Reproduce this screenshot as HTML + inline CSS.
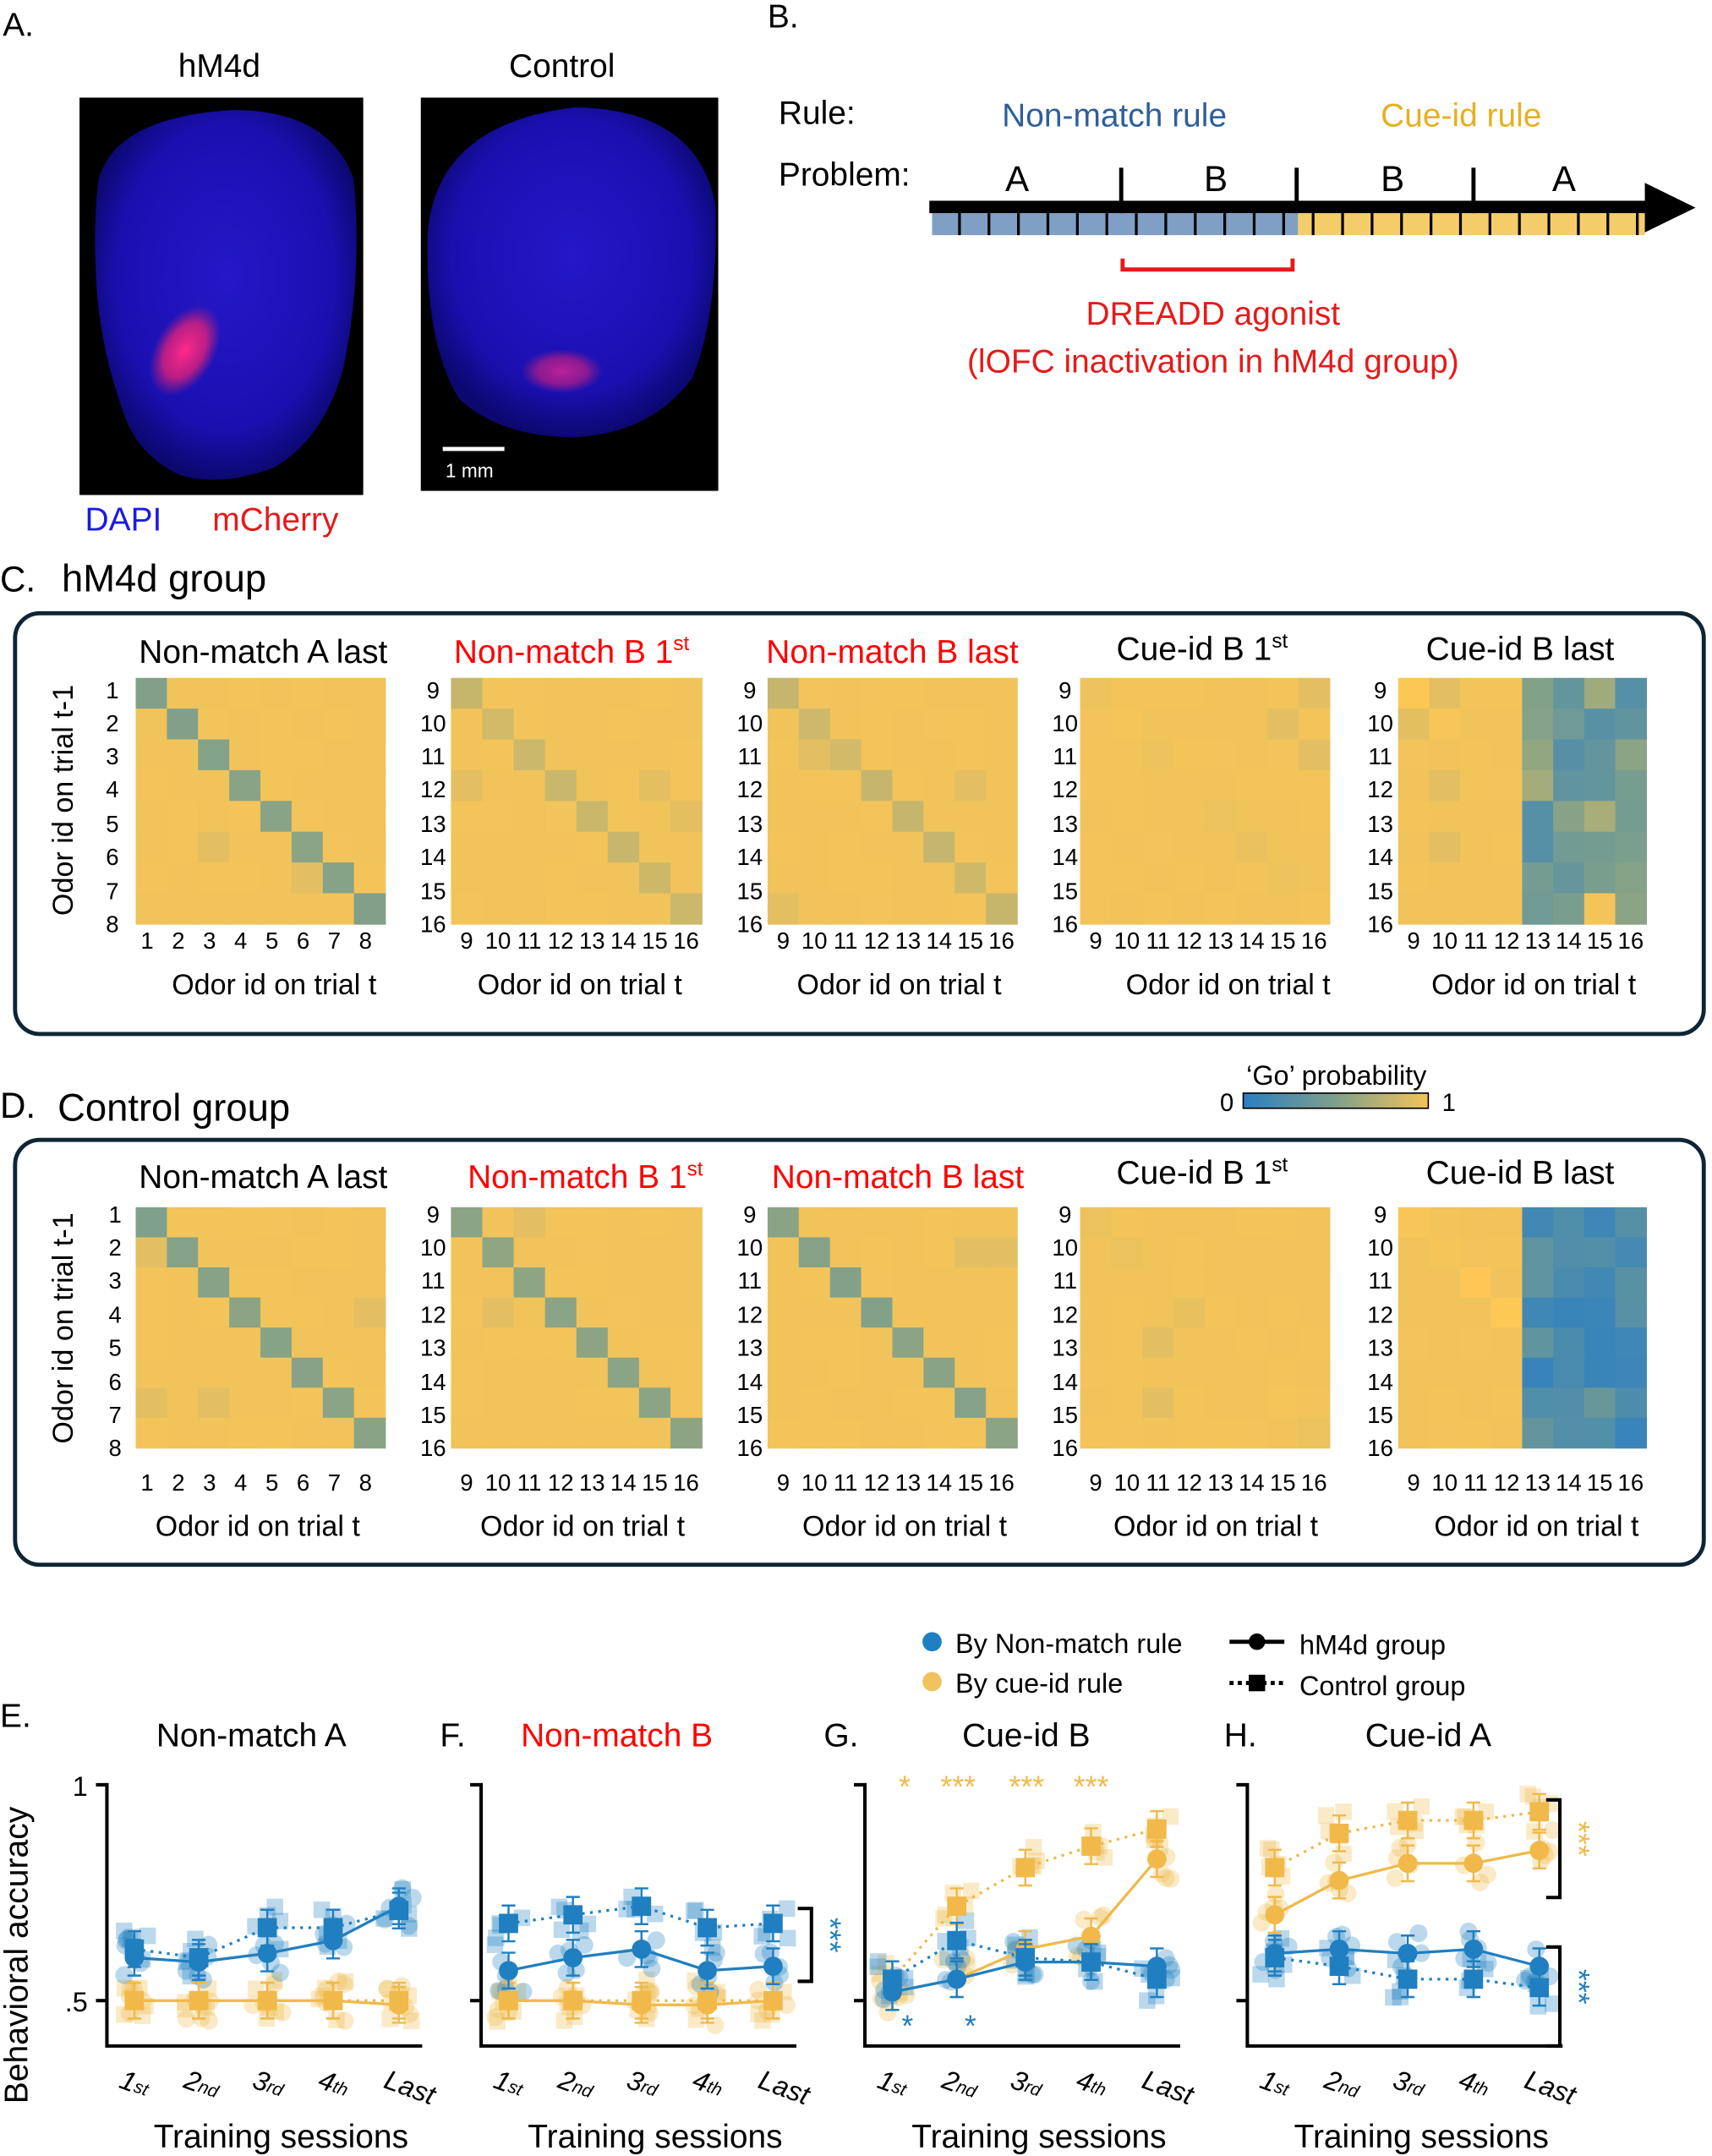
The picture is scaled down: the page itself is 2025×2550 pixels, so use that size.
<!DOCTYPE html>
<html><head><meta charset="utf-8"><style>
html,body{margin:0;padding:0;background:#fff}
svg{display:block}
text{font-family:"Liberation Sans",sans-serif}
</style></head><body>
<svg id="s" width="2025" height="2550" viewBox="0 0 1249 1568" preserveAspectRatio="none" xmlns="http://www.w3.org/2000/svg">
<rect width="1249" height="1568" fill="#fff"/>
<defs>
<radialGradient id="br1" cx="50%" cy="45%" r="55%"><stop offset="0" stop-color="#2418c8"/><stop offset="0.75" stop-color="#1a10b0"/><stop offset="1" stop-color="#0c0870"/></radialGradient>
<radialGradient id="pk" cx="50%" cy="50%" r="50%"><stop offset="0" stop-color="#ff2a8a"/><stop offset="0.6" stop-color="#e0207a" stop-opacity="0.8"/><stop offset="1" stop-color="#c0207a" stop-opacity="0"/></radialGradient>
<linearGradient id="cb" x1="0" x2="1"><stop offset="0" stop-color="#2a7fc4"/><stop offset="0.5" stop-color="#7fa08a"/><stop offset="1" stop-color="#f3c45a"/></linearGradient>
</defs>
<!-- Panel A -->
<text x="2" y="26" font-size="24">A.</text>
<text x="160" y="56" font-size="24" text-anchor="middle">hM4d</text>
<text x="410" y="56" font-size="24" text-anchor="middle">Control</text>
<rect x="58" y="71" width="207" height="289" fill="#000"/>
<path d="M72 130 Q85 85 170 80 Q240 80 258 130 Q265 200 250 270 Q235 320 200 340 Q160 355 130 345 Q100 330 90 300 Q72 250 70 200 Q68 160 72 130Z" fill="url(#br1)"/>
<ellipse cx="135" cy="255" rx="22" ry="36" fill="url(#pk)" transform="rotate(30 135 255)"/>
<rect x="307" y="71" width="217" height="286" fill="#000"/>
<path d="M312 170 Q318 90 420 78 Q510 80 522 150 Q524 230 505 275 Q475 315 420 318 Q365 318 335 290 Q310 250 312 170Z" fill="url(#br1)"/>
<ellipse cx="410" cy="270" rx="30" ry="16" fill="url(#pk)" opacity="0.7"/>
<rect x="323" y="325" width="45" height="3" fill="#fff"/>
<text x="325" y="347" font-size="14" fill="#fff">1 mm</text>
<text x="62" y="386" font-size="24" fill="#1a1ae6">DAPI</text>
<text x="155" y="386" font-size="24" fill="#e61a1a">mCherry</text>
<!-- Panel B -->
<text x="560" y="20" font-size="24">B.</text>
<text x="568" y="90" font-size="24">Rule:</text>
<text x="568" y="135" font-size="24">Problem:</text>
<text x="813" y="92" font-size="24" fill="#2e5f9a" text-anchor="middle">Non-match rule</text>
<text x="1066" y="92" font-size="24" fill="#e6b020" text-anchor="middle">Cue-id rule</text>
<text x="742" y="139" font-size="26" text-anchor="middle">A</text>
<text x="887" y="139" font-size="26" text-anchor="middle">B</text>
<text x="1016" y="139" font-size="26" text-anchor="middle">B</text>
<text x="1141" y="139" font-size="26" text-anchor="middle">A</text>
<rect x="680" y="155" width="267" height="16" fill="#7f9fc4"/>
<rect x="947" y="155" width="253" height="16" fill="#f4cd6a"/>
<rect x="678" y="146" width="528" height="9" fill="#000"/>
<polygon points="1200,133 1237,151 1200,169" fill="#000"/>
<g id="bt" stroke="#000" stroke-width="2"></g>
<path d="M819 188 V196 H943 V188" stroke="#e61a1a" stroke-width="3" fill="none"/>
<text x="885" y="236" font-size="24" fill="#e61a1a" text-anchor="middle">DREADD agonist</text>
<text x="885" y="271" font-size="24" fill="#e61a1a" text-anchor="middle">(lOFC inactivation in hM4d group)</text>
<!-- Panel C/D headers -->
<text x="0" y="430" font-size="26">C.</text><text x="45" y="430" font-size="28">hM4d group</text>
<text x="0" y="813" font-size="26">D.</text><text x="42" y="815" font-size="28">Control group</text>
<rect x="11" y="446" width="1232" height="306" rx="18" fill="none" stroke="#0f2535" stroke-width="3"/>
<rect x="11" y="829" width="1232" height="309" rx="18" fill="none" stroke="#0f2535" stroke-width="3"/>
<!-- colorbar -->
<text x="975" y="789" font-size="20" text-anchor="middle">‘Go’ probability</text>
<rect x="907" y="795" width="135" height="11" fill="url(#cb)" stroke="#000" stroke-width="1"/>
<text x="895" y="808" font-size="18" text-anchor="middle">0</text>
<text x="1057" y="808" font-size="18" text-anchor="middle">1</text>
<g id="heat"></g>
<g font-size="24" text-anchor="middle">
<text x="192" y="482">Non-match A last</text>
<text x="417" y="482" fill="#f00">Non-match B 1<tspan font-size="15" dy="-9">st</tspan></text>
<text x="651" y="482" fill="#f00">Non-match B last</text>
<text x="877" y="480">Cue-id B 1<tspan font-size="15" dy="-9">st</tspan></text>
<text x="1109" y="480">Cue-id B last</text>
<text x="192" y="864">Non-match A last</text>
<text x="427" y="864" fill="#f00">Non-match B 1<tspan font-size="15" dy="-9">st</tspan></text>
<text x="655" y="864" fill="#f00">Non-match B last</text>
<text x="877" y="861">Cue-id B 1<tspan font-size="15" dy="-9">st</tspan></text>
<text x="1109" y="861">Cue-id B last</text>
</g>
<g font-size="21" text-anchor="middle">
<text x="200" y="723">Odor id on trial  t</text><text x="423" y="723">Odor id on trial  t</text><text x="656" y="723">Odor id on trial  t</text><text x="896" y="723">Odor id on trial  t</text><text x="1119" y="723">Odor id on trial  t</text>
<text x="188" y="1117">Odor id on trial  t</text><text x="425" y="1117">Odor id on trial  t</text><text x="660" y="1117">Odor id on trial  t</text><text x="887" y="1117">Odor id on trial  t</text><text x="1121" y="1117">Odor id on trial  t</text>
<text transform="translate(53 582) rotate(-90)" font-size="21">Odor id on trial  t-1</text>
<text transform="translate(53 966) rotate(-90)" font-size="21">Odor id on trial  t-1</text>
</g>
<g id="lbl" font-size="17" text-anchor="middle"></g>
<!-- Legend E-H -->
<circle cx="680" cy="1194" r="7" fill="#1f7fc0"/><text x="697" y="1202" font-size="20">By Non-match rule</text>
<circle cx="680" cy="1223" r="7" fill="#f0c35e"/><text x="697" y="1231" font-size="20">By cue-id rule</text>
<line x1="897" y1="1194" x2="937" y2="1194" stroke="#000" stroke-width="3"/><circle cx="917" cy="1194" r="6"/>
<line x1="897" y1="1224" x2="937" y2="1224" stroke="#000" stroke-width="3" stroke-dasharray="3 3"/><rect x="911" y="1218" width="12" height="12"/>
<text x="948" y="1203" font-size="20">hM4d group</text><text x="948" y="1233" font-size="20">Control group</text>
<g font-size="24">
<text x="0" y="1256">E.</text><text x="114" y="1270">Non-match A</text>
<text x="321" y="1270">F.</text><text x="380" y="1270" fill="#f00">Non-match B</text>
<text x="601" y="1270">G.</text><text x="702" y="1270">Cue-id B</text>
<text x="893" y="1270">H.</text><text x="996" y="1270">Cue-id A</text>
</g>
<text transform="translate(20 1530) rotate(-90)" font-size="24">Behavioral  accuracy</text>
<text x="64" y="1306" font-size="20" text-anchor="end">1</text>
<text x="64" y="1463" font-size="20" text-anchor="end">.5</text>
<g id="plots"></g>
</svg>
<script>
const NS="http://www.w3.org/2000/svg";
function el(p,t,a,txt){const e=document.createElementNS(NS,t);for(const k in a)e.setAttribute(k,a[k]);if(txt!==undefined)e.textContent=txt;p.appendChild(e);return e;}
const bt=document.getElementById('bt');
for(let x=700;x<1200;x+=21.5){el(bt,'line',{x1:x,y1:155,x2:x,y2:171});}
for(const x of [818,946,1075]){el(bt,'line',{x1:x,y1:122,x2:x,y2:155,'stroke-width':3});}
function lerp(a,b,t){return a.map((v,i)=>Math.round(v+(b[i]-v)*t));}
function cmap(v){const c0=[42,127,196],c1=[127,160,138],c2=[243,196,90];return 'rgb('+(v<0.5?lerp(c0,c1,v*2):lerp(c1,c2,(v-0.5)*2)).join(',')+')';}
let seed=7;function rnd(){seed=(seed*9301+49297)%233280;return seed/233280;}
const H=document.getElementById('heat'),L=document.getElementById('lbl');
const xs=[99,329,560,788,1020],ws=[182,183,182,182,181];
function heat(y0,h,k,diag,blue){
 const x0=xs[k],w=ws[k],cw=w/8,ch=h/8;
 for(let r=0;r<8;r++)for(let c=0;c<8;c++){
  let v=0.985+0.015*rnd();
  if(rnd()<0.04)v=0.93;
  if(r==c)v=diag+0.06*rnd();
  if(blue&&c>=4)v=blue[0]+blue[1]*rnd();
  if(blue&&c==6&&r==7&&y0<800)v=1;
  el(H,'rect',{x:x0+c*cw,y:y0+r*ch,width:cw+0.5,height:ch+0.5,fill:cmap(v)});
 }
}
const dC=[0.5,0.8,0.8,0.95,null],dD=[0.5,0.55,0.5,0.95,null];
for(let k=0;k<5;k++){
 heat(493,179,k,k==4?0.99:dC[k],k==4?[0.25,0.45]:null);
 heat(878,175,k,k==4?0.99:dD[k],k==4?[0.08,0.3]:null);
}
const rC=[502,526,550,574,599,623,648,672],rD=[883,907,931,956,980,1005,1029,1053];
const ylx=[82,316,547,777,1007];
for(let k=0;k<5;k++){
 for(let i=0;i<8;i++){
  const lab=k==0?(i+1):(i+9);
  el(L,'text',{x:ylx[k],y:rC[i]+6},lab);
  el(L,'text',{x:ylx[k]+(k==0?2:0),y:rD[i]+6},lab);
  const cx=xs[k]+ws[k]/8*(i+0.5)+(k==0?-3:0);
  el(L,'text',{x:cx,y:690},lab);
  el(L,'text',{x:cx,y:1084},lab);
 }
}
const P=document.getElementById('plots');
const ax=[78,351,631,910];
const B='#1f7fc0',Y='#f0b94a';
function Yv(v){return 1455-(v-0.5)*312;}
const data=[
 {bh:[.6,.59,.61,.64,.72],bc:[.62,.6,.67,.67,.71],yh:[.5,.5,.5,.5,.49],yc:[.5,.5,.5,.5,.5]},
 {bh:[.57,.6,.62,.57,.58],bc:[.68,.7,.72,.67,.68],yh:[.5,.5,.49,.49,.5],yc:[.5,.5,.5,.5,.5]},
 {bh:[.52,.55,.59,.59,.58],bc:[.55,.64,.6,.59,.55],yh:[.52,.55,.62,.65,.83],yc:[.55,.72,.81,.86,.9]},
 {bh:[.61,.62,.61,.62,.58],bc:[.6,.58,.55,.55,.53],yh:[.7,.78,.82,.82,.85],yc:[.81,.89,.92,.92,.94]}
];
for(let p=0;p<4;p++){
 const a=ax[p],g=el(P,'g',{});
 el(g,'path',{d:`M${a-8} 1298 H${a} V1488 H${a+230}`,stroke:'#000','stroke-width':2.5,fill:'none'});
 el(g,'line',{x1:a-8,y1:1455,x2:a,y2:1455,stroke:'#000','stroke-width':2.5});
 const sx=[a+20,a+67,a+117,a+165,a+213];
 const d=data[p];
 const series=[[d.yc,Y,1],[d.yh,Y,0],[d.bc,B,1],[d.bh,B,0]];
 for(const [vals,col,sq] of series){
  for(let i=0;i<5;i++)for(let j=0;j<5;j++){
   const vx=sx[i]+(rnd()-0.5)*22,vy=Yv(vals[i]+(rnd()-0.5)*0.1);
   if(sq)el(g,'rect',{x:vx-6,y:vy-6,width:12,height:12,fill:col,opacity:0.3});
   else el(g,'circle',{cx:vx,cy:vy,r:6.5,fill:col,opacity:0.3});
  }
 }
 for(const [vals,col,sq] of series){
  el(g,'polyline',{points:vals.map((v,i)=>sx[i]+','+Yv(v)).join(' '),fill:'none',stroke:col,'stroke-width':2,'stroke-dasharray':sq?'2 4':'none'});
  for(let i=0;i<5;i++){
   const y=Yv(vals[i]);
   el(g,'path',{d:`M${sx[i]} ${y-13} V${y+13} M${sx[i]-5} ${y-13} H${sx[i]+5} M${sx[i]-5} ${y+13} H${sx[i]+5}`,stroke:col,'stroke-width':1.5});
   if(sq)el(g,'rect',{x:sx[i]-7,y:y-7,width:14,height:14,fill:col});
   else el(g,'circle',{cx:sx[i],cy:y,r:7,fill:col});
  }
 }
 const labs=[['1','st'],['2','nd'],['3','rd'],['4','th'],['Last','']];
 for(let i=0;i<5;i++){
  const t=el(g,'text',{transform:`translate(${sx[i]-12} 1518) rotate(20)`,'font-size':20,'font-style':'italic'});
  t.textContent=labs[i][0];
  if(labs[i][1]){const ts=el(t,'tspan',{'font-size':13,dy:-1});ts.textContent=labs[i][1];}
 }
 el(g,'text',{x:a+127,y:1562,'font-size':24,'text-anchor':'middle'},'Training sessions');
}
const st={'font-size':22,'text-anchor':'middle'};
function star(x,y,c,s){el(P,'text',Object.assign({x:x,y:y,fill:c},st),s);}
star(660,1307,Y,'*');star(699,1307,Y,'***');star(749,1307,Y,'***');star(796,1307,Y,'***');
star(662,1481,B,'*');star(708,1481,B,'*');
function br(x,y1,y2,col){el(P,'path',{d:`M${x-10} ${y1} H${x} V${y2} H${x-10}`,stroke:'#000','stroke-width':2.5,fill:'none'});
 el(P,'text',{transform:`translate(${x+6} ${(y1+y2)/2-20}) rotate(90)`,'font-size':22,fill:col},'***');}
br(592,1388,1441,B);br(1138,1309,1380,Y);br(1138,1416,1488,B);
</script>
</body></html>
